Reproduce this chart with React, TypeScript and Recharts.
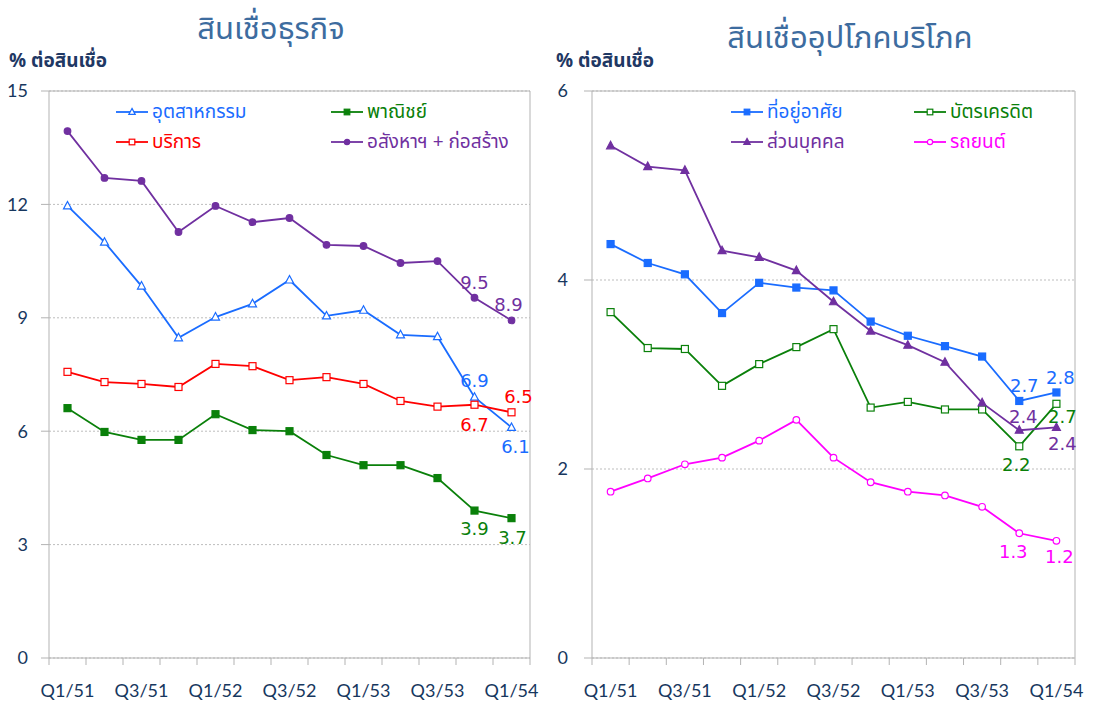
import React from 'react';
import { LineChart, Line, XAxis, YAxis, CartesianGrid, ReferenceLine, LabelList } from 'recharts';

const quarters = ['Q1/51', 'Q2/51', 'Q3/51', 'Q4/51', 'Q1/52', 'Q2/52', 'Q3/52', 'Q4/52', 'Q1/53', 'Q2/53', 'Q3/53', 'Q4/53', 'Q1/54'];

// business loans (% of loans)
const industry = [11.96, 11.0, 9.84, 8.47, 9.02, 9.37, 10.0, 9.05, 9.2, 8.55, 8.5, 6.9, 6.1];
const commerce = [6.61, 5.98, 5.77, 5.77, 6.45, 6.03, 6.0, 5.37, 5.1, 5.1, 4.76, 3.9, 3.7];
const services = [7.57, 7.3, 7.25, 7.17, 7.78, 7.72, 7.35, 7.43, 7.25, 6.8, 6.65, 6.7, 6.5];
const realEstate = [13.94, 12.7, 12.62, 11.27, 11.96, 11.53, 11.64, 10.93, 10.9, 10.45, 10.5, 9.53, 8.93];

// consumer loans (% of loans)
const housing = [4.38, 4.18, 4.06, 3.65, 3.97, 3.92, 3.89, 3.56, 3.41, 3.3, 3.19, 2.72, 2.81];
const creditCard = [3.66, 3.28, 3.27, 2.88, 3.11, 3.29, 3.48, 2.65, 2.71, 2.63, 2.63, 2.24, 2.69];
const personal = [5.42, 5.2, 5.16, 4.31, 4.24, 4.1, 3.77, 3.46, 3.31, 3.13, 2.7, 2.41, 2.44];
const auto = [1.76, 1.9, 2.05, 2.12, 2.3, 2.52, 2.12, 1.86, 1.76, 1.72, 1.6, 1.32, 1.24];

const leftTicks = [0, 3, 6, 9, 12, 15];
const rightTicks = [0, 2, 4, 6];

const THAI = "Tahoma, 'Noto Sans Thai', 'Loma', 'Garuda', 'Noto Sans', sans-serif";
const NUM = "Tahoma, 'DejaVu Sans', sans-serif";
const TICKFONT = "Lato, 'Open Sans', sans-serif";
const NAVY = '#17375e';
const AXIS = '#b3b3b3';

type Shape = 'triangle' | 'square' | 'circle';

interface Series {
  key: string;
  name: string;
  color: string;
  shape: Shape;
  filled: boolean;
  values: number[];
  // label placement for the last two points: [dx, dy]
  labels: Record<number, [number, number]>;
}

const leftSeries: Series[] = [
  { key: 'ind', name: 'อุตสาหกรรม', color: '#1a6cff', shape: 'triangle', filled: false, values: industry, labels: { 11: [0, -17], 12: [4, 19] } },
  { key: 'com', name: 'พาณิชย์', color: '#0a800a', shape: 'square', filled: true, values: commerce, labels: { 11: [0, 18], 12: [1, 19] } },
  { key: 'svc', name: 'บริการ', color: '#ff0000', shape: 'square', filled: false, values: services, labels: { 11: [0, 20], 12: [7, -16] } },
  { key: 're', name: 'อสังหาฯ + ก่อสร้าง', color: '#7030a0', shape: 'circle', filled: true, values: realEstate, labels: { 11: [0, -15], 12: [-3, -16] } },
];

const rightSeries: Series[] = [
  { key: 'hou', name: 'ที่อยู่อาศัย', color: '#1a6cff', shape: 'square', filled: true, values: housing, labels: { 11: [5, -15], 12: [4, -15] } },
  { key: 'cc', name: 'บัตรเครดิต', color: '#0a800a', shape: 'square', filled: false, values: creditCard, labels: { 11: [-3, 18], 12: [6, 13] } },
  { key: 'per', name: 'ส่วนบุคคล', color: '#7030a0', shape: 'triangle', filled: true, values: personal, labels: { 11: [4, -14], 12: [6, 16] } },
  { key: 'car', name: 'รถยนต์', color: '#ff00ff', shape: 'circle', filled: false, values: auto, labels: { 11: [-6, 18], 12: [3, 16] } },
];

const Marker = ({ cx, cy, shape, color, filled, s = 1 }: { cx: number; cy: number; shape: Shape; color: string; filled: boolean; s?: number }) => {
  const fill = filled ? color : '#fff';
  if (shape === 'triangle') {
    return <polygon points={`${cx},${cy - 4.5 * s} ${cx + 4 * s},${cy + 3 * s} ${cx - 4 * s},${cy + 3 * s}`} fill={fill} stroke={color} strokeWidth={1.2} />;
  }
  if (shape === 'square') {
    return <rect x={cx - 3.5 * s} y={cy - 3.5 * s} width={7 * s} height={7 * s} fill={fill} stroke={color} strokeWidth={1.2} />;
  }
  return <circle cx={cx} cy={cy} r={3.3 * s} fill={fill} stroke={color} strokeWidth={1.2} />;
};

const makeDot = (s: Series) => (props: any) => (
  <Marker key={`${s.key}-${props.index}`} cx={props.cx} cy={props.cy} shape={s.shape} color={s.color} filled={s.filled} />
);

const makeLabel = (s: Series) => (props: any) => {
  const off = s.labels[props.index];
  if (!off) return null;
  return (
    <text
      key={`${s.key}-lab-${props.index}`}
      x={props.x + off[0]}
      y={props.y + off[1]}
      textAnchor="middle"
      dominantBaseline="central"
      fill={s.color}
      fontSize={18}
      fontFamily={NUM}
    >
      {Number(props.value).toFixed(1)}
    </text>
  );
};

const XTick = (props: any) => {
  const { x, y, payload } = props;
  const v = payload.value as number;
  if (!Number.isInteger(v)) {
    return <line x1={x} x2={x} y1={y} y2={y + 7} stroke={AXIS} strokeWidth={1} />;
  }
  if (v % 2 !== 0) return null;
  return (
    <text x={x} y={y + 39} textAnchor="middle" fill={NAVY} fontSize={18} fontFamily={TICKFONT}>
      {quarters[v]}
    </text>
  );
};

const LegendBox = ({ series, colWidth }: { series: Series[]; colWidth: number }) => (
  <div style={{ display: 'grid', gridTemplateColumns: `${colWidth}px ${colWidth}px`, rowGap: 4 }}>
    {series.map((s) => (
      <div key={s.key} style={{ display: 'flex', alignItems: 'center', height: 26 }}>
        <svg width={34} height={14} style={{ marginRight: 3 }}>
          <line x1={1} x2={33} y1={7} y2={7} stroke={s.color} strokeWidth={1.8} />
          <Marker cx={17} cy={7} shape={s.shape} color={s.color} filled={s.filled} s={0.8} />
        </svg>
        <span style={{ color: s.color, fontSize: 19, fontFamily: THAI, whiteSpace: 'nowrap' }}>{s.name}</span>
      </div>
    ))}
  </div>
);

const xTicks: number[] = [];
for (let i = 0; i <= quarters.length; i++) {
  xTicks.push(i - 0.5);
  if (i < quarters.length) xTicks.push(i);
}

interface PanelProps {
  title: string;
  titleX: number;
  titleY: number;
  series: Series[];
  yMax: number;
  yTicks: number[];
  axisWidth: number;
  rightMargin: number;
  tickMargin: number;
  legendLeft: number;
  legendCol: number;
}

const Panel = ({ title, titleX, titleY, series, yMax, yTicks, axisWidth, rightMargin, tickMargin, legendLeft, legendCol }: PanelProps) => {
  const data = quarters.map((q, i) => {
    const row: any = { q, idx: i };
    series.forEach((s) => (row[s.key] = s.values[i]));
    return row;
  });
  return (
    <div style={{ position: 'relative', width: 547, height: 704 }}>
      <div style={{ position: 'absolute', left: titleX, top: titleY, fontFamily: THAI, fontSize: 31, color: '#3d6c9f', transform: 'translateX(-50%)', whiteSpace: 'nowrap' }}>
        {title}
      </div>
      <div style={{ position: 'absolute', left: 9, top: 47, fontFamily: THAI, fontSize: 19, fontWeight: 'bold', color: '#1f3864', whiteSpace: 'nowrap' }}>
        % ต่อสินเชื่อ
      </div>
      <LineChart width={547} height={704} data={data} margin={{ top: 91, right: rightMargin, bottom: 0, left: 0 }}>
        <CartesianGrid vertical={false} stroke="#bdbdbd" strokeDasharray="2 2" />
        <XAxis
          dataKey="idx"
          type="number"
          domain={[-0.5, quarters.length - 0.5]}
          ticks={xTicks}
          interval={0}
          tick={<XTick />}
          tickLine={false}
          tickSize={0}
          tickMargin={0}
          axisLine={{ stroke: AXIS }}
          height={46}
        />
        <YAxis
          type="number"
          domain={[0, yMax]}
          ticks={yTicks}
          interval={0}
          width={axisWidth}
          tickSize={8}
          tickMargin={tickMargin}
          axisLine={{ stroke: AXIS }}
          tickLine={{ stroke: AXIS }}
          tick={{ fill: NAVY, fontSize: 18, fontFamily: TICKFONT }}
        />
        <ReferenceLine y={yMax} stroke={AXIS} />
        <ReferenceLine x={quarters.length - 0.5} stroke={AXIS} />
        {series.map((s) => (
          <Line
            key={s.key}
            dataKey={s.key}
            name={s.name}
            stroke={s.color}
            strokeWidth={1.8}
            dot={makeDot(s)}
            activeDot={false}
            isAnimationActive={false}
          >
            <LabelList dataKey={s.key} content={makeLabel(s)} />
          </Line>
        ))}
      </LineChart>
      <div style={{ position: 'absolute', left: legendLeft, top: 99 }}>
        <LegendBox series={series} colWidth={legendCol} />
      </div>
    </div>
  );
};

export default function App() {
  return (
    <div style={{ position: 'absolute', left: 0, top: 0, width: 1094, height: 704, background: '#fff', display: 'flex' }}>
      <Panel
        title="สินเชื่อธุรกิจ"
        titleX={271}
        titleY={6}
        series={leftSeries}
        yMax={15}
        yTicks={leftTicks}
        axisWidth={49}
        rightMargin={17}
        tickMargin={13}
        legendLeft={115}
        legendCol={215}
      />
      <Panel
        title="สินเชื่ออุปโภคบริโภค"
        titleX={303}
        titleY={15}
        series={rightSeries}
        yMax={6}
        yTicks={rightTicks}
        axisWidth={45}
        rightMargin={19}
        tickMargin={16}
        legendLeft={183}
        legendCol={183}
      />
    </div>
  );
}
